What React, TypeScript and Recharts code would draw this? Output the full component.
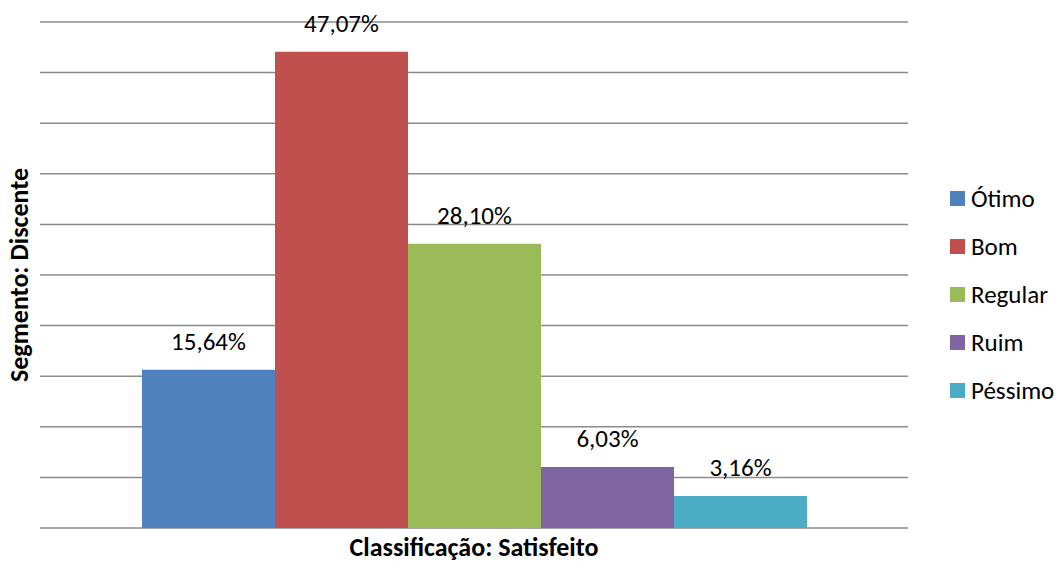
import { BarChart, Bar, XAxis, YAxis, CartesianGrid, LabelList } from "recharts";

const categories = ["Satisfeito"];
const seriesNames = ["Ótimo", "Bom", "Regular", "Ruim", "Péssimo"];
const seriesValues = [15.64, 47.07, 28.1, 6.03, 3.16];
const seriesColors = ["#4F81BD", "#C0504D", "#9BBB59", "#8064A2", "#4BACC6"];
const yTicks = [0, 5, 10, 15, 20, 25, 30, 35, 40, 45, 50];

const data = categories.map((c) => {
  const row: Record<string, string | number> = { name: c };
  seriesNames.forEach((s, i) => {
    row[s] = seriesValues[i];
  });
  return row;
});

const FONT = "Calibri, Carlito, 'Open Sans', sans-serif";

const fmt = (v: unknown) => `${Number(v).toFixed(2).replace(".", ",")}%`;

function Legend() {
  return (
    <div style={{ position: "absolute", left: 950, top: 174, fontFamily: FONT, fontSize: 25, color: "#000" }}>
      {seriesNames.map((s, i) => (
        <div key={s} style={{ display: "flex", alignItems: "center", height: 48 }}>
          <div style={{ width: 15, height: 15, background: seriesColors[i], marginRight: 6 }} />
          <span>{s}</span>
        </div>
      ))}
    </div>
  );
}

export default function App() {
  return (
    <div style={{ position: "absolute", left: 0, top: 0, width: 1063, height: 563, background: "#fff", fontFamily: FONT }}>
      <BarChart
        width={1063}
        height={563}
        data={data}
        margin={{ top: 22, right: 155, bottom: 35, left: 40 }}
        barCategoryGap={100}
        barGap={0}
        barSize={133}
      >
        <CartesianGrid vertical={false} stroke="#8c8c8c" strokeWidth={1.5} />
        <XAxis dataKey="name" tick={false} tickLine={false} axisLine={{ stroke: "#8c8c8c", strokeWidth: 1.5 }} height={0} />
        <YAxis hide domain={[0, 50]} ticks={yTicks} width={0} />
        {seriesNames.map((s, i) => (
          <Bar key={s} dataKey={s} fill={seriesColors[i]} isAnimationActive={false}>
            <LabelList
              dataKey={s}
              position="top"
              offset={20}
              formatter={fmt}
              style={{ fontFamily: FONT, fontSize: 25, fill: "#000" }}
            />
          </Bar>
        ))}
      </BarChart>
      <div
        style={{
          position: "absolute",
          left: 40,
          width: 868,
          top: 531,
          textAlign: "center",
          fontWeight: "bold",
          fontSize: 26,
          color: "#000",
        }}
      >
        Classificação: Satisfeito
      </div>
      <div
        style={{
          position: "absolute",
          left: 19,
          top: 275,
          transform: "translate(-50%, -50%) rotate(-90deg)",
          whiteSpace: "nowrap",
          fontWeight: "bold",
          fontSize: 26,
          color: "#000",
        }}
      >
        Segmento: Discente
      </div>
      <Legend />
    </div>
  );
}
